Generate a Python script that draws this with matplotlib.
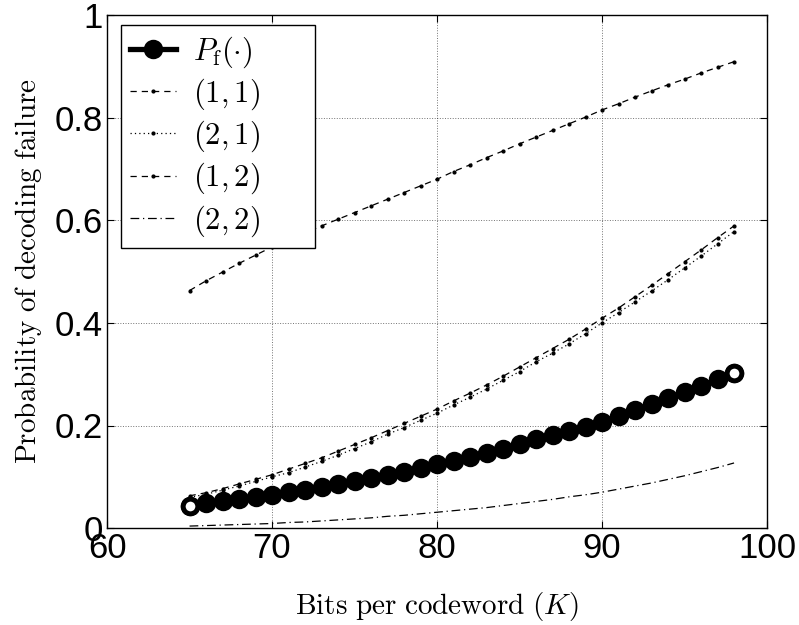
import numpy as np
import matplotlib
matplotlib.use('Agg')
import matplotlib.pyplot as plt

# datos
K = np.arange(65, 99)

pf = [0.0435, 0.048, 0.053, 0.0565, 0.061, 0.065, 0.070, 0.075, 0.081, 0.086,
      0.092, 0.098, 0.104, 0.110, 0.117, 0.124, 0.131, 0.138, 0.146, 0.154,
      0.163, 0.173, 0.181, 0.189, 0.197, 0.207, 0.218, 0.230, 0.241, 0.253,
      0.265, 0.277, 0.290, 0.303]

p11 = [0.463, 0.482, 0.499, 0.516, 0.532, 0.548, 0.561, 0.575, 0.589, 0.602,
       0.615, 0.628, 0.641, 0.654, 0.667, 0.680, 0.695, 0.708, 0.722, 0.735,
       0.749, 0.762, 0.775, 0.788, 0.801, 0.815, 0.827, 0.840, 0.852, 0.864,
       0.875, 0.887, 0.898, 0.909]

p21 = [0.060, 0.066, 0.074, 0.082, 0.091, 0.100, 0.108, 0.119, 0.130, 0.142,
       0.155, 0.168, 0.183, 0.196, 0.210, 0.224, 0.240, 0.255, 0.271, 0.288,
       0.305, 0.324, 0.341, 0.359, 0.379, 0.400, 0.420, 0.441, 0.462, 0.484,
       0.507, 0.530, 0.554, 0.578]

p12 = [0.063, 0.069, 0.077, 0.086, 0.095, 0.104, 0.115, 0.126, 0.137, 0.150,
       0.163, 0.176, 0.190, 0.204, 0.218, 0.232, 0.248, 0.263, 0.279, 0.296,
       0.314, 0.332, 0.350, 0.368, 0.388, 0.409, 0.429, 0.451, 0.473, 0.496,
       0.519, 0.542, 0.566, 0.589]

p22 = [0.004, 0.005, 0.006, 0.007, 0.008, 0.009, 0.011, 0.012, 0.014, 0.016,
       0.018, 0.020, 0.023, 0.025, 0.028, 0.031, 0.034, 0.037, 0.040, 0.044,
       0.048, 0.052, 0.056, 0.061, 0.065, 0.070, 0.076, 0.082, 0.088, 0.095,
       0.102, 0.110, 0.118, 0.127]

xticks = [60, 70, 80, 90, 100]
yticks = [0, 0.2, 0.4, 0.6, 0.8, 1]
yticklabels = ['0', '0.2', '0.4', '0.6', '0.8', '1']

plt.rcParams['mathtext.fontset'] = 'cm'
plt.rcParams['font.family'] = 'Liberation Sans'

fig = plt.figure(figsize=(7.99, 6.25), dpi=100)
ax = fig.add_axes([0.134, 0.155, 0.826, 0.821])

ax.plot(K, pf, 'k-', lw=3.8, marker='o', ms=11, mfc='k', mew=3,
        label=r'$P_{\rm f}(\cdot)$', zorder=5)
# extremos huecos como en el original
ax.plot([K[0], K[-1]], [pf[0], pf[-1]], ls='none', marker='o', ms=10.5,
        mfc='white', mec='k', mew=3.5, zorder=6)
ax.plot(K, p11, 'k', ls=(0, (5, 4)), lw=0.9, marker='.', ms=4, label=r'$(1,1)$')
ax.plot(K, p21, 'k', ls=(0, (1, 2.5)), lw=0.9, marker='.', ms=4, label=r'$(2,1)$')
ax.plot(K, p12, 'k', ls=(0, (5, 4)), lw=0.9, marker='.', ms=4, label=r'$(1,2)$')
ax.plot(K, p22, 'k', ls=(0, (7, 3, 1, 3)), lw=0.9, label=r'$(2,2)$')

ax.set_xlim(60, 100)
ax.set_ylim(0, 1)
ax.set_xticks(xticks)
ax.set_yticks(yticks)
ax.set_yticklabels(yticklabels)
ax.tick_params(direction='in', top=True, right=True, labelsize=25, length=5, pad=3)
ax.grid(True, ls=':', color='k', lw=0.7, alpha=0.55)
for s in ax.spines.values():
    s.set_linewidth(1.0)

ax.set_xlabel(r'$\mathrm{Bits\ per\ codeword\ }(K)$', fontsize=21, labelpad=18)
ax.set_ylabel(r'$\mathrm{Probability\ of\ decoding\ failure}$', fontsize=21, labelpad=8)

# mode='expand' para que la caja sea mas ancha, como en el original
leg = ax.legend(loc='upper left', bbox_to_anchor=(0.021, 0.0, 0.294, 0.98),
                mode='expand', borderaxespad=0,
                fontsize=22, fancybox=False, edgecolor='k', framealpha=1,
                handlelength=1.5, handletextpad=0.55, labelspacing=0.22,
                borderpad=0.3)
leg.get_frame().set_linewidth(1.0)

plt.savefig('out.png', dpi=100)
